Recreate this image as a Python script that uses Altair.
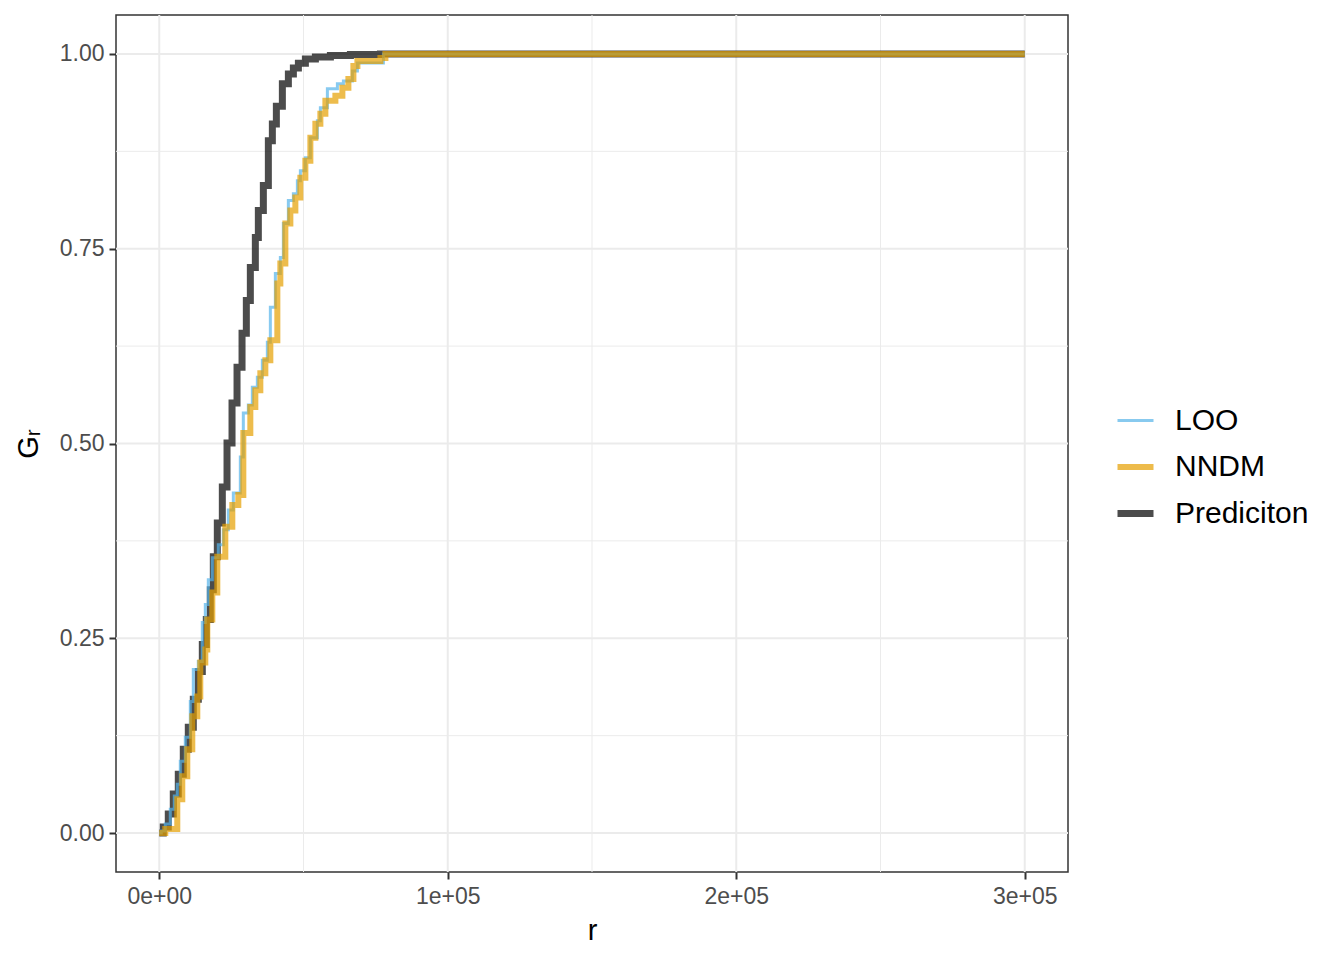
import altair as alt
import pandas as pd

series_names = ["LOO", "NNDM", "Prediciton"]
series_colors = ["#56B4E9", "#E69F00", "#000000"]
series_widths = [3, 6, 7]

loo_r = [0, 694, 2081, 3815, 5203, 6243, 7284, 9018, 10753, 11793, 13528, 14915, 15956,
         16996, 18384, 20465, 22199, 23933, 25668, 28096, 29136, 30871, 32258, 33992,
         35727, 37461, 38502, 40236, 41970, 43011, 44745, 46480, 47867, 48908, 50642,
         52376, 54804, 55845, 58273, 61741, 63823, 66944, 68678, 77697, 300000]
loo_g = [0, 0.0026, 0.0115, 0.0307, 0.0474, 0.0627, 0.0922, 0.1229, 0.1690, 0.2100,
         0.2202, 0.2702, 0.2932, 0.3252, 0.3534, 0.3700, 0.3892, 0.4148, 0.4366, 0.4827,
         0.5391, 0.5493, 0.5723, 0.5851, 0.6069, 0.6300, 0.6748, 0.7183, 0.7388, 0.7823,
         0.8118, 0.8207, 0.8374, 0.8502, 0.8668, 0.8924, 0.9142, 0.9309, 0.9552, 0.9616,
         0.9654, 0.9782, 0.9885, 1.0, 1.0]

nndm_r = [0, 2081, 6243, 7978, 9712, 11446, 13181, 14221, 15956, 16649, 18384, 20118,
          22893, 25321, 27402, 29136, 31564, 33299, 35033, 36767, 38501, 40929, 41970,
          43704, 45439, 47173, 48908, 50642, 52376, 54110, 55845, 57579, 61047, 63475,
          65557, 67291, 68678, 76656, 78391, 300000]
nndm_g = [0, 0.0051, 0.0435, 0.0730, 0.1076, 0.1498, 0.1754, 0.2190, 0.2356, 0.2740,
          0.3086, 0.3547, 0.3931, 0.4212, 0.4340, 0.5134, 0.5467, 0.5685, 0.5903, 0.6069,
          0.6325, 0.7055, 0.7311, 0.7823, 0.7990, 0.8156, 0.8412, 0.8630, 0.8924, 0.9104,
          0.9232, 0.9398, 0.9462, 0.9565, 0.9680, 0.9846, 0.9910, 0.9949, 1.0, 1.0]

pred_r = [0, 1388, 3122, 4857, 6591, 8326, 10060, 11795, 13529, 14917, 16304, 17692,
          18733, 20120, 21855, 23485, 25220, 26955, 28689, 30180, 31568, 33302, 34343,
          36078, 37812, 39200, 40588, 42669, 44751, 46485, 48220, 50647, 54116, 59320,
          66258, 76665, 300000]
pred_g = [0, 0.0077, 0.0243, 0.050, 0.0755, 0.1076, 0.1357, 0.1716, 0.2074, 0.242,
          0.274, 0.3124, 0.3547, 0.398, 0.4443, 0.5006, 0.5519, 0.598, 0.6415, 0.6837,
          0.726, 0.7644, 0.799, 0.831, 0.8886, 0.910, 0.933, 0.9616, 0.9744, 0.982,
          0.988, 0.9936, 0.9962, 0.998, 0.9994, 1.0, 1.0]

x_major = [0, 100000, 200000, 300000]
x_major_labels = ["0e+00", "1e+05", "2e+05", "3e+05"]
x_minor = [50000, 150000, 250000]
y_major = [0, 0.25, 0.5, 0.75, 1.0]
y_minor = [0.125, 0.375, 0.625, 0.875]

frames = []
for name, rr, gg in [("LOO", loo_r, loo_g), ("NNDM", nndm_r, nndm_g), ("Prediciton", pred_r, pred_g)]:
    frames.append(pd.DataFrame({"r": rr, "G": gg, "series": name}))
df = pd.concat(frames, ignore_index=True)

x_scale = alt.Scale(domain=[-15000, 315000], nice=False, zero=False)
y_scale = alt.Scale(domain=[-0.05, 1.05], nice=False, zero=False)

label_expr = " : ".join(
    f"datum.value == {v} ? '{l}'" for v, l in zip(x_major, x_major_labels)
) + " : ''"

x_axis = alt.Axis(values=x_major, labelExpr=label_expr, title="r")
y_axis = alt.Axis(values=y_major, format=".2f", title="Gᵣ")

grid_color = "#EBEBEB"

gx_major = alt.Chart(pd.DataFrame({"v": x_major})).mark_rule(color=grid_color, strokeWidth=2).encode(
    x=alt.X("v:Q", scale=x_scale, axis=x_axis))
gx_minor = alt.Chart(pd.DataFrame({"v": x_minor})).mark_rule(color=grid_color, strokeWidth=1).encode(
    x=alt.X("v:Q", scale=x_scale, axis=x_axis))
gy_major = alt.Chart(pd.DataFrame({"v": y_major})).mark_rule(color=grid_color, strokeWidth=2).encode(
    y=alt.Y("v:Q", scale=y_scale, axis=y_axis))
gy_minor = alt.Chart(pd.DataFrame({"v": y_minor})).mark_rule(color=grid_color, strokeWidth=1).encode(
    y=alt.Y("v:Q", scale=y_scale, axis=y_axis))

legend = alt.Legend(
    title=None, orient="none", legendX=998, legendY=386,
    symbolType="stroke", symbolSize=1296, symbolOpacity=0.7,
    labelFontSize=30, labelFont="Liberation Sans", labelColor="#000000",
    labelOffset=18, rowPadding=10, padding=0,
)


def series_layer(name):
    return alt.Chart(df).transform_filter(alt.datum.series == name).mark_line(
        interpolate="step-after", opacity=0.7, strokeCap="butt", strokeJoin="miter"
    ).encode(
        x=alt.X("r:Q", scale=x_scale, axis=x_axis),
        y=alt.Y("G:Q", scale=y_scale, axis=y_axis),
        color=alt.Color("series:N", scale=alt.Scale(domain=series_names, range=series_colors), legend=legend),
        strokeWidth=alt.StrokeWidth(
            "series:N",
            scale=alt.Scale(type="ordinal", domain=series_names, range=series_widths),
            legend=legend),
    )


chart = alt.layer(
    gx_minor, gy_minor, gx_major, gy_major,
    series_layer("Prediciton"),
    series_layer("LOO"),
    series_layer("NNDM"),
).properties(
    width=952, height=857,
    autosize=alt.AutoSizeParams(type="none"),
    padding={"left": 108, "top": 7, "right": 260, "bottom": 80},
).configure_view(
    stroke="#333333", strokeWidth=1.5
).configure_axis(
    grid=False, domain=False,
    ticks=True, tickColor="#333333", tickWidth=2, tickSize=7,
    labelFont="Liberation Sans", labelFontSize=23, labelColor="#4D4D4D",
    titleFont="Liberation Sans", titleFontSize=29, titleFontWeight="normal", titleColor="#000000",
).configure_axisX(
    titlePadding=8, labelPadding=6,
).configure_axisY(
    titlePadding=16, labelPadding=5,
)

chart.save("out.html", embed_options={"renderer": "svg", "actions": False})
